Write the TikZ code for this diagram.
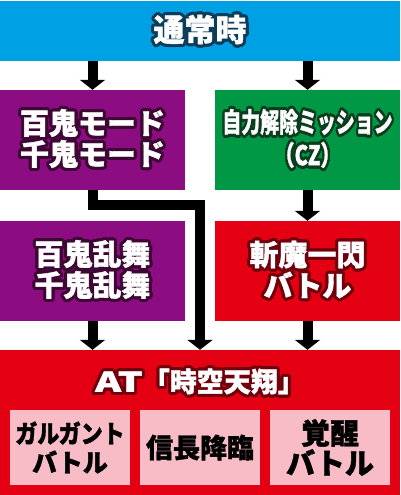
\documentclass[tikz,border=0pt]{standalone}
\usepackage{fontspec}
\usepackage{graphicx}
\usepackage{contour}
\usetikzlibrary{arrows.meta}
\newfontfamily\jpfont{Noto Sans CJK JP}[BoldFeatures={FakeBold=1.3}]

\definecolor{normalblue}{RGB}{0,160,228}
\definecolor{bluedark}{RGB}{12,62,92}
\definecolor{modepurple}{RGB}{140,12,130}
\definecolor{purpledark}{RGB}{62,8,52}
\definecolor{czgreen}{RGB}{0,152,68}
\definecolor{greendark}{RGB}{10,62,30}
\definecolor{atred}{RGB}{228,0,18}
\definecolor{reddark}{RGB}{112,0,12}
\definecolor{partpink}{RGB}{248,188,198}

% white text with a dark rim
\contourlength{3pt}
\contournumber{32}
\newcommand{\wtext}[2]{\contour{#1}{\textcolor{white}{#2}}}

\tikzset{
  box/.style={fill=#1, inner sep=0pt, minimum width=185pt, minimum height=100pt,
    font=\jpfont\bfseries\fontsize{29}{31}\selectfont, align=center},
  partbox/.style={fill=partpink, inner sep=0pt, minimum width=120pt, minimum height=75pt,
    font=\jpfont\bfseries\fontsize{27}{30}\selectfont, align=center},
  flow/.style={line width=10pt, line join=miter, -{Triangle[width=25pt,length=10pt]}}
}

\begin{document}
\begin{tikzpicture}[x=1pt, y=-1pt]
  \useasboundingbox (0,0) rectangle (400,495);

  % Draw the boxes
  \node[box=normalblue, minimum width=400pt, minimum height=60pt, font=\jpfont\bfseries\fontsize{31}{32}\selectfont] (normal) at (200,31) {\wtext{bluedark}{通常時}};
  \node[box=modepurple] (hyakki) at (92.5,140) {\wtext{purpledark}{百鬼モード}\\\wtext{purpledark}{千鬼モード}};
  \node[box=czgreen, font=\jpfont\bfseries\fontsize{27}{33}\selectfont] (cz) at (307.5,140) {\scalebox{0.7}[1]{\wtext{greendark}{自力解除ミッション}}\\\scalebox{0.75}[1]{\wtext{greendark}{（CZ）}}};
  \node[box=modepurple] (ranbu) at (92.5,271) {\wtext{purpledark}{百鬼乱舞}\\\wtext{purpledark}{千鬼乱舞}};
  \node[box=atred] (zanma) at (307.5,271) {\wtext{reddark}{斬魔一閃}\\\wtext{reddark}{バトル}};
  \node[box=atred, minimum width=400pt, minimum height=145pt] (at) at (200,422.5) {};
  \node[font=\jpfont\bfseries\fontsize{27}{30}\selectfont, inner sep=0pt] (attitle) at (200,383) {\wtext{reddark}{\scalebox{1.45}[1]{AT}「時空天翔」}};

  % Parts of the AT
  \node[partbox, font=\jpfont\bfseries\fontsize{25}{29}\selectfont] (garugant) at (70,447.5) {\scalebox{0.88}[1]{ガルガント}\\バトル};
  \node[partbox] (nobunaga) at (200,447.5) {信長降臨};
  \node[partbox, font=\jpfont\bfseries\fontsize{29}{30}\selectfont] (kakusei) at (330,447.5) {覚醒\\バトル};

  % Arrows
  \coordinate (bend) at (200,205);
  \draw[flow] (normal.south -| hyakki) -- (hyakki.north);
  \draw[flow] (normal.south -| cz) -- (cz.north);
  \draw[flow] (cz.south) -- (zanma.north);
  \draw[flow] (ranbu.south) -- (ranbu.south |- at.north);
  \draw[flow] (zanma.south) -- (zanma.south |- at.north);
  \draw[flow] (hyakki.south) |- (bend) -- (bend |- at.north);
\end{tikzpicture}
\end{document}
